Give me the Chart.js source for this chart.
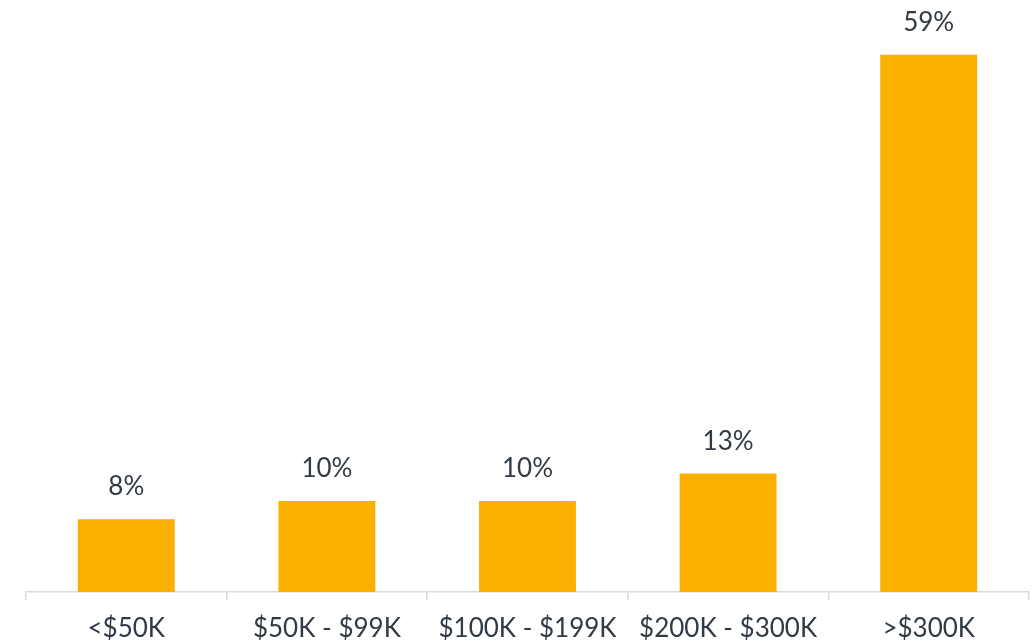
<!DOCTYPE html>
<html>
<head>
<meta charset="utf-8">
<script src="https://cdn.jsdelivr.net/npm/chart.js@4/dist/chart.umd.min.js"></script>
<style>
  html, body { margin: 0; padding: 0; background: #fff; overflow: hidden; }
  canvas { display: block; }
</style>
</head>
<body>
<canvas id="myChart" width="1035" height="641"></canvas>
<script>
'use strict';
// ---------- Data ------------- //
let categories = ['<$50K', '$50K - $99K', '$100K - $199K', '$200K - $300K', '>$300K'];
let shares = [8, 10, 10, 13, 59];

let barColor = '#F9B000';
let textColor = '#323a45';
let axisColor = '#d9d9d9';

// ---------- Value labels above the bars ------------- //
let valueLabels = {
    id: 'valueLabels',
    afterDatasetsDraw(chart){
        let ctx = chart.ctx;
        let meta = chart.getDatasetMeta(0);
        ctx.save();
        ctx.font = '26px Lato';
        ctx.fillStyle = textColor;
        ctx.textAlign = 'center';
        ctx.textBaseline = 'alphabetic';
        for (let i = 0; i < meta.data.length; i++){
            let bar = meta.data[i];
            ctx.fillText(shares[i] + '%', bar.x, bar.y - 24);
        }
        ctx.restore();
    }
};

let chartObject = {
    type: 'bar',
    data: {
        labels: categories,
        datasets: [{
            data: shares,
            backgroundColor: barColor,
            borderWidth: 0,
            categoryPercentage: 1,
            barPercentage: 0.483
        }]
    },
    options: {
        responsive: false,
        animation: false,
        layout: { padding: { left: 26, right: 6, top: 0, bottom: 0 } },
        plugins: {
            legend: { display: false },
            tooltip: { enabled: false }
        },
        scales: {
            x: {
                grid: {
                    offset: true,
                    drawOnChartArea: false,
                    drawTicks: true,
                    tickLength: 8,
                    color: axisColor,
                    lineWidth: 1.5
                },
                border: { display: true, color: axisColor, width: 1.5 },
                ticks: {
                    color: textColor,
                    font: { family: 'Lato', size: 26 },
                    padding: 13,
                    maxRotation: 0,
                    autoSkip: false
                },
                // keep the axis band fixed so the plot ends at the same baseline
                afterFit(scale){
                    scale.height = 49;
                }
            },
            y: {
                display: false,
                min: 0,
                max: 65
            }
        }
    },
    plugins: [valueLabels]
};

let ctx = document.getElementById('myChart').getContext('2d');
let myChart = new Chart(ctx, chartObject);
</script>
</body>
</html>
